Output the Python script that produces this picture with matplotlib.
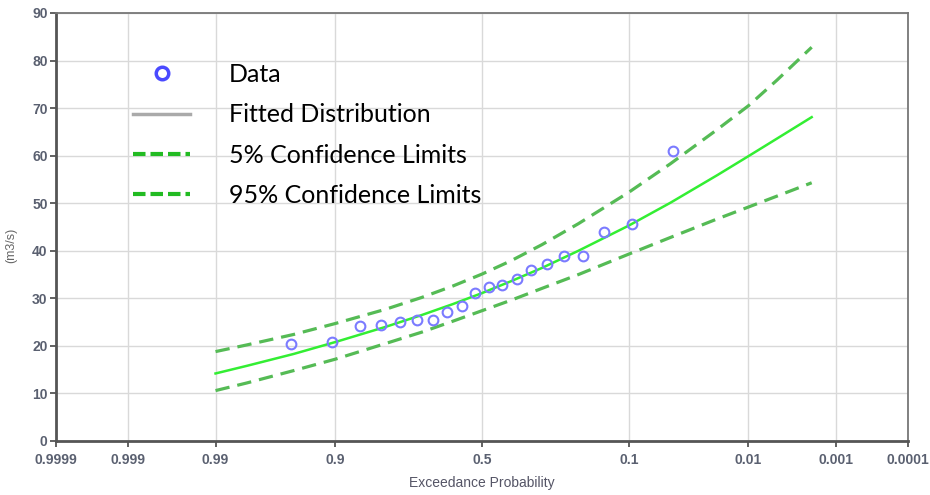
import math
import numpy as np
import matplotlib
matplotlib.use("Agg")
import matplotlib.pyplot as plt
from matplotlib.lines import Line2D

# ---------------- data ----------------
data_prob = [0.952, 0.905, 0.857, 0.810, 0.762, 0.714, 0.667, 0.619, 0.571, 0.524,
             0.476, 0.429, 0.381, 0.333, 0.286, 0.238, 0.190, 0.143, 0.095, 0.048]
data_flow = [20.4, 20.8, 24.1, 24.4, 25.0, 25.4, 25.4, 27.1, 28.4, 31.1,
             32.3, 32.7, 34.1, 35.9, 37.2, 38.8, 38.8, 44.0, 45.6, 61.0]

curve_prob = [0.99, 0.98, 0.95, 0.9, 0.8, 0.7, 0.6, 0.5, 0.4, 0.3, 0.2, 0.1,
              0.05, 0.02, 0.01, 0.005, 0.002]
fitted = [14.2, 15.8, 18.3, 20.8, 24.0, 26.5, 28.8, 31.1, 33.6, 36.4, 40.0, 45.3,
          50.1, 55.9, 59.9, 63.6, 68.1]
upper = [18.8, 20.2, 22.4, 24.7, 27.7, 30.2, 32.6, 35.1, 37.9, 41.3, 45.7, 52.3,
         58.3, 65.5, 70.5, 75.9, 82.8]
lower = [10.6, 12.2, 14.8, 17.2, 20.5, 22.9, 25.2, 27.4, 29.6, 32.1, 35.0, 39.3,
         42.8, 46.7, 49.2, 51.5, 54.3]

xticks = [0.9999, 0.999, 0.99, 0.9, 0.5, 0.1, 0.01, 0.001, 0.0001]
xticklabels = ["0.9999", "0.999", "0.99", "0.9", "0.5", "0.1", "0.01", "0.001", "0.0001"]
yticks = [0, 10, 20, 30, 40, 50, 60, 70, 80, 90]

legend_labels = ["Data", "Fitted Distribution", "5% Confidence Limits", "95% Confidence Limits"]


# ---------------- normal probability scale ----------------
def _ppf(p):
    p = np.clip(np.asarray(p, dtype=float), 1e-12, 1 - 1e-12)
    a = [-3.969683028665376e+01, 2.209460984245205e+02, -2.759285104469687e+02,
         1.383577518672690e+02, -3.066479806614716e+01, 2.506628277459239e+00]
    b = [-5.447609879822406e+01, 1.615858368580409e+02, -1.556989798598866e+02,
         6.680131188771972e+01, -1.328068155288572e+01]
    c = [-7.784894002430293e-03, -3.223964580411365e-01, -2.400758277161838e+00,
         -2.549732539343734e+00, 4.374664141464968e+00, 2.938163982698783e+00]
    d = [7.784695709041462e-03, 3.224671290700398e-01, 2.445134137142996e+00,
         3.754408661907416e+00]
    plow, phigh = 0.02425, 1 - 0.02425
    out = np.empty_like(p)
    m = p < plow
    q = np.sqrt(-2 * np.log(p[m]))
    out[m] = (((((c[0]*q+c[1])*q+c[2])*q+c[3])*q+c[4])*q+c[5]) / ((((d[0]*q+d[1])*q+d[2])*q+d[3])*q+1)
    m = p > phigh
    q = np.sqrt(-2 * np.log(1 - p[m]))
    out[m] = -(((((c[0]*q+c[1])*q+c[2])*q+c[3])*q+c[4])*q+c[5]) / ((((d[0]*q+d[1])*q+d[2])*q+d[3])*q+1)
    m = (p >= plow) & (p <= phigh)
    q = p[m] - 0.5
    r = q * q
    out[m] = (((((a[0]*r+a[1])*r+a[2])*r+a[3])*r+a[4])*r+a[5])*q / (((((b[0]*r+b[1])*r+b[2])*r+b[3])*r+b[4])*r+1)
    return out


_erf = np.frompyfunc(math.erf, 1, 1)


def _cdf(z):
    z = np.asarray(z, dtype=float)
    return 0.5 * (1 + _erf(z / math.sqrt(2)).astype(float))


# ---------------- figure ----------------
fig = plt.figure(figsize=(9.3, 4.95), dpi=100)
ax = fig.add_axes([56 / 930, 1 - 441 / 495, (908 - 56) / 930, (441 - 13) / 495])
ax.set_xscale("function", functions=(_ppf, _cdf))
ax.set_xlim(0.9999, 0.0001)
ax.set_ylim(0, 90)

ax.grid(True, color="#d9d9d9", linewidth=1.0, zorder=0)
ax.set_axisbelow(True)

fit_col = "#33ee33"
cl_col = "#55bb55"

ax.plot(curve_prob, upper, color=cl_col, lw=2.3, dashes=(4.5, 2.5), zorder=3)
ax.plot(curve_prob, lower, color=cl_col, lw=2.3, dashes=(4.5, 2.5), zorder=3)
ax.plot(curve_prob, fitted, color=fit_col, lw=1.8, zorder=4)
ax.plot(data_prob, data_flow, linestyle="none", marker="o", markersize=7,
        markerfacecolor="none", markeredgecolor="#7b7bff", markeredgewidth=1.5, zorder=5)

ax.xaxis.set_major_locator(matplotlib.ticker.FixedLocator(xticks))
ax.xaxis.set_minor_locator(matplotlib.ticker.NullLocator())
ax.set_xticklabels(xticklabels)
ax.set_yticks(yticks)

tick_col = "#5a6070"
ax.tick_params(axis="both", direction="out", length=4, width=1.3, color="#555555",
               labelsize=10, labelcolor=tick_col, pad=2)
ax.tick_params(axis="x", pad=5)
for lab in ax.get_xticklabels() + ax.get_yticklabels():
    lab.set_fontweight("bold")
    lab.set_family("Liberation Sans")

for side in ["left", "bottom"]:
    ax.spines[side].set_color("#555555")
    ax.spines[side].set_linewidth(2.0)
for side in ["top", "right"]:
    ax.spines[side].set_color("#777777")
    ax.spines[side].set_linewidth(1.3)

ax.set_xlabel("Exceedance Probability", fontsize=10, color="#555566",
              family="Liberation Sans")
ax.xaxis.set_label_coords(0.5, -35 / 428)
ax.set_ylabel("(m3/s)", fontsize=9, color="#666666", family="Liberation Sans")
ax.yaxis.set_label_coords(-39 / 852, 0.457)

handles = [
    Line2D([], [], linestyle="none", marker="o", markersize=9, markerfacecolor="none",
           markeredgecolor="#4a4aff", markeredgewidth=2.5),
    Line2D([], [], color="#aaaaaa", lw=2.5),
    Line2D([], [], color="#22bb22", lw=3, dashes=(3, 1.2)),
    Line2D([], [], color="#22bb22", lw=3, dashes=(3, 1.2)),
]
leg = ax.legend(handles, legend_labels, loc="upper left", bbox_to_anchor=(0.0785, 0.906),
                frameon=False, prop={"family": "Lato", "size": 18},
                handlelength=2.3, handletextpad=1.55, labelspacing=0.69, borderaxespad=0)

fig.savefig("out.png", dpi=100)
